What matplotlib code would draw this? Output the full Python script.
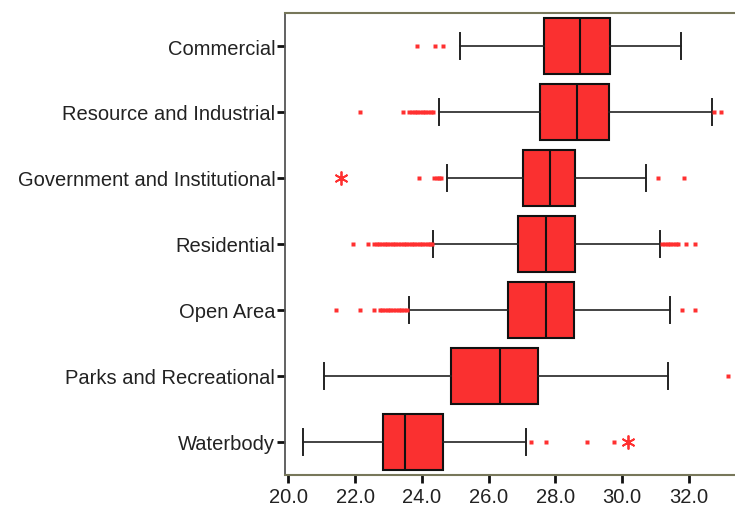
import matplotlib.pyplot as plt

plt.rcParams['font.family'] = ['Liberation Sans', 'DejaVu Sans']

categorias = ['Waterbody', 'Parks and Recreational', 'Open Area', 'Residential',
              'Government and Institutional', 'Resource and Industrial', 'Commercial']

# estatisticas de cada caixa: whisker inferior, Q1, mediana, Q3, whisker superior
whis_low = [20.45, 21.06, 23.61, 24.34, 24.76, 24.51, 25.15]
q1 = [22.83, 24.87, 26.58, 26.88, 27.02, 27.53, 27.65]
mediana = [23.48, 26.34, 27.73, 27.73, 27.83, 28.64, 28.74]
q3 = [24.62, 27.49, 28.55, 28.59, 28.59, 29.61, 29.65]
whis_high = [27.12, 31.37, 31.42, 31.13, 30.71, 32.68, 31.76]

# outliers (pontos) e extremos (asteriscos)
outliers = [
    [27.28, 27.71, 28.96, 29.77],
    [33.17],
    [21.43, 22.14, 22.57, 22.74, 22.82, 22.9, 22.98, 23.06, 23.14, 23.22, 23.3,
     23.38, 23.46, 23.54, 31.79, 32.17],
    [21.95, 22.39, 22.57, 22.65, 22.73, 22.81, 22.89, 22.97, 23.05, 23.13, 23.21,
     23.29, 23.37, 23.45, 23.53, 23.61, 23.69, 23.77, 23.85, 23.93, 24.01, 24.09,
     24.17, 24.25, 24.31, 31.2, 31.28, 31.36, 31.44, 31.52, 31.6, 31.67, 31.91, 32.17],
    [23.92, 24.37, 24.44, 24.51, 24.57, 31.07, 31.84],
    [22.14, 23.44, 23.62, 23.7, 23.78, 23.86, 23.94, 24.02, 24.1, 24.18, 24.26,
     24.32, 32.76, 32.95],
    [23.86, 24.39, 24.63],
]
extremos = [[30.18], [], [], [], [21.58], [], []]

stats = []
for i in range(len(categorias)):
    stats.append({'whislo': whis_low[i], 'q1': q1[i], 'med': mediana[i],
                  'q3': q3[i], 'whishi': whis_high[i], 'fliers': outliers[i]})

fig = plt.figure(figsize=(7.35, 5.10), dpi=100)
ax = fig.add_axes([285 / 735, 34 / 510, 450 / 735, 462 / 510])

ax.bxp(stats, positions=range(len(categorias)), vert=False, widths=0.84,
       capwidths=0.4, patch_artist=True,
       boxprops=dict(facecolor='#fa3030', edgecolor='#111111', linewidth=1.5),
       medianprops=dict(color='#111111', linewidth=1.5),
       whiskerprops=dict(color='#222222', linewidth=1.2),
       capprops=dict(color='#222222', linewidth=1.4),
       flierprops=dict(marker='s', markersize=2.2, markerfacecolor='#ff3030',
                       markeredgecolor='none', linestyle='none'))

for i, ext in enumerate(extremos):
    if ext:
        ax.plot(ext, [i] * len(ext), linestyle='none', marker=(6, 2, 0),
                markersize=10, markeredgecolor='#ff3030', markeredgewidth=1.3)

ax.set_xlim(19.9, 33.38)
ax.set_ylim(-0.5, 6.5)
ax.set_xticks([20, 22, 24, 26, 28, 30, 32])
ax.set_xticklabels(['20.0', '22.0', '24.0', '26.0', '28.0', '30.0', '32.0'])
ax.set_yticks(range(len(categorias)))
ax.set_yticklabels(categorias)
ax.tick_params(axis='both', direction='out', length=6, width=2, colors='#111111',
               labelsize=14.5, labelcolor='#222222')
ax.tick_params(axis='y', pad=1)
ax.tick_params(axis='x', pad=3)

ax.spines['right'].set_visible(False)
ax.spines['left'].set_color('#555555')
ax.spines['left'].set_linewidth(1.3)
for lado in ['top', 'bottom']:
    ax.spines[lado].set_color('#77775a')
    ax.spines[lado].set_linewidth(1.5)
    ax.spines[lado].set_linestyle((0, (1, 1)))

plt.savefig('out.png', dpi=100)
